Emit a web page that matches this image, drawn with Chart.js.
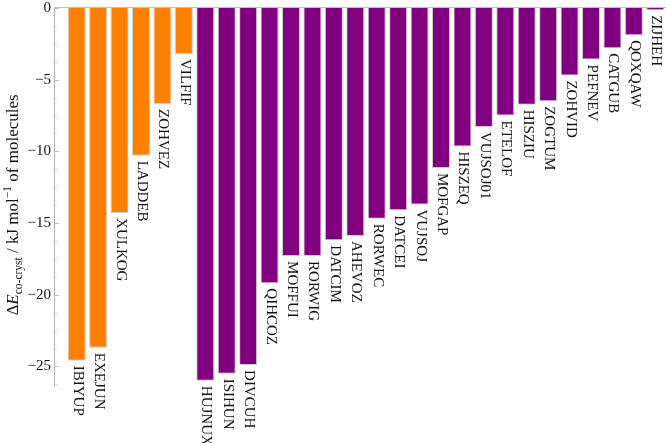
<!DOCTYPE html>
<html>
<head>
<meta charset="utf-8">
<script src="https://cdn.jsdelivr.net/npm/chart.js@4/dist/chart.umd.min.js"></script>
<style>
  html, body { margin: 0; padding: 0; background: #fff; }
  #wrap { width: 666px; height: 443px; }
</style>
</head>
<body>
<div id="wrap"><canvas id="chart"></canvas></div>
<script>
// refcodes of the co-crystals
const names = ["IBIYUP", "EXEJUN", "XULKOG", "LADDEB", "ZOHVEZ", "VILFIF",
    "HUJNUX", "ISIHUN", "DIVCUH", "QIHCOZ", "MOFFUI", "RORWIG", "DATCIM",
    "AHEVOZ", "RORWEC", "DATCEI", "VUJSOJ", "MOFGAP", "HISZEQ", "VUJSOJ01",
    "ETELOF", "HISZIU", "ZOGTUM", "ZOHVID", "PEFNEV", "CATGUB", "QOXQAW", "ZIJHEH"];

// co-crystallisation energies, kJ/mol of molecules
const energies = [-24.6, -23.7, -14.3, -10.3, -6.7, -3.2,
    -26.0, -25.5, -24.9, -19.2, -17.3, -17.3, -16.2,
    -15.9, -14.7, -14.1, -13.7, -11.15, -9.65, -8.3,
    -7.5, -6.75, -6.5, -4.7, -3.6, -2.8, -1.9, -0.15];

// which group each bar belongs to (0 = orange, 1 = purple)
const groups = [0, 0, 0, 0, 0, 0,
    1, 1, 1, 1, 1, 1, 1, 1, 1, 1, 1, 1, 1, 1, 1, 1, 1, 1, 1, 1, 1, 1];

// y tick labels
const yTicks = [0, -5, -10, -15, -20, -25];
const yMinor = [-1.25, -2.5, -3.75, -6.25, -7.5, -8.75, -11.25, -12.5, -13.75,
    -16.25, -17.5, -18.75, -21.25, -22.5, -23.75, -26.25];

const groupColors = ["#ff8000", "#800080"];
const serif = "'Liberation Serif', 'DejaVu Serif', serif";

// axis lines + ticks drawn at the left edge, a bit away from the first bar
const axisPlugin = {
    id: "axisLines",
    afterDatasetsDraw(chart) {
        const ctx = chart.ctx;
        const y = chart.scales.y;
        const ax = 54.5;
        const y0 = Math.round(y.getPixelForValue(0)) - 0.5;
        ctx.save();
        ctx.lineWidth = 1;
        // top (zero) line
        ctx.strokeStyle = "#c8bcc8";
        ctx.beginPath();
        ctx.moveTo(ax, y0);
        ctx.lineTo(chart.width, y0);
        ctx.stroke();
        // vertical axis
        ctx.strokeStyle = "#b0b0b0";
        ctx.beginPath();
        ctx.moveTo(ax, y0);
        ctx.lineTo(ax, y.getPixelForValue(-26.4));
        ctx.stroke();
        // ticks
        ctx.strokeStyle = "#b8b8b8";
        yTicks.forEach(v => {
            const p = Math.round(y.getPixelForValue(v)) + 0.5;
            ctx.beginPath(); ctx.moveTo(ax, p); ctx.lineTo(ax + 4.5, p); ctx.stroke();
        });
        ctx.strokeStyle = "#d0d0d0";
        yMinor.forEach(v => {
            const p = Math.round(y.getPixelForValue(v)) + 0.5;
            ctx.beginPath(); ctx.moveTo(ax, p); ctx.lineTo(ax + 3, p); ctx.stroke();
        });
        ctx.restore();
    }
};

// refcode under the end of each bar, reading downwards
const barLabelPlugin = {
    id: "barLabels",
    afterDatasetsDraw(chart) {
        const ctx = chart.ctx;
        const meta = chart.getDatasetMeta(0);
        ctx.save();
        ctx.fillStyle = "#111";
        ctx.font = "15px " + serif;
        ctx.textAlign = "left";
        ctx.textBaseline = "middle";
        meta.data.forEach((bar, i) => {
            ctx.save();
            ctx.translate(bar.x + 1, bar.y + 5);
            ctx.rotate(Math.PI / 2);
            ctx.fillText(names[i], 0, 0);
            ctx.restore();
        });
        ctx.restore();
    }
};

// y title with sub/superscripts
const titlePlugin = {
    id: "yTitle",
    afterDraw(chart) {
        const ctx = chart.ctx;
        const big = 17, small = 11.5;
        const parts = [
            { t: "\u0394", f: big + "px " + serif, dy: 0 },
            { t: "E", f: "italic " + big + "px " + serif, dy: 0 },
            { t: "co-cryst", f: small + "px " + serif, dy: 4 },
            { t: " / kJ mol", f: big + "px " + serif, dy: 0 },
            { t: "\u22121", f: small + "px " + serif, dy: -7 },
            { t: " of molecules", f: big + "px " + serif, dy: 0 }
        ];
        ctx.save();
        let total = 0;
        parts.forEach(p => { ctx.font = p.f; p.w = ctx.measureText(p.t).width; total += p.w; });
        ctx.translate(18, 205);
        ctx.rotate(-Math.PI / 2);
        ctx.fillStyle = "#111";
        ctx.textBaseline = "alphabetic";
        ctx.textAlign = "left";
        let x = -total / 2;
        parts.forEach(p => {
            ctx.font = p.f;
            ctx.fillText(p.t, x, p.dy);
            x += p.w;
        });
        ctx.restore();
    }
};

new Chart(document.getElementById("chart").getContext("2d"),
{
    type: "bar",
    data:
    {
        labels: names,
        datasets:
        [{
            data: energies,
            backgroundColor: groups.map(g => groupColors[g]),
            borderColor: "rgba(200,200,200,0.9)",
            borderWidth: 1,
            barPercentage: 0.84,
            categoryPercentage: 1.0
        }]
    },
    options:
    {
        responsive: true,
        maintainAspectRatio: false,
        animation: false,
        layout: { padding: { top: 8, bottom: 55, left: 0, right: 0 } },
        plugins:
        {
            legend: { display: false },
            tooltip: { enabled: false }
        },
        scales:
        {
            x: { display: false },
            y:
            {
                min: -26.5,
                max: 0,
                afterFit: s => { s.width = 66; s.paddingTop = 0; s.paddingBottom = 0; },
                afterBuildTicks: s => { s.ticks = yTicks.map(v => ({ value: v })); },
                grid: { display: false, drawTicks: false },
                border: { display: false },
                ticks:
                {
                    padding: 15,
                    color: "#111",
                    font: { family: serif, size: 15 },
                    callback: v => v === 0 ? "0" : "\u2212" + Math.abs(v)
                }
            }
        }
    },
    plugins: [axisPlugin, barLabelPlugin, titlePlugin]
});
</script>
</body>
</html>
